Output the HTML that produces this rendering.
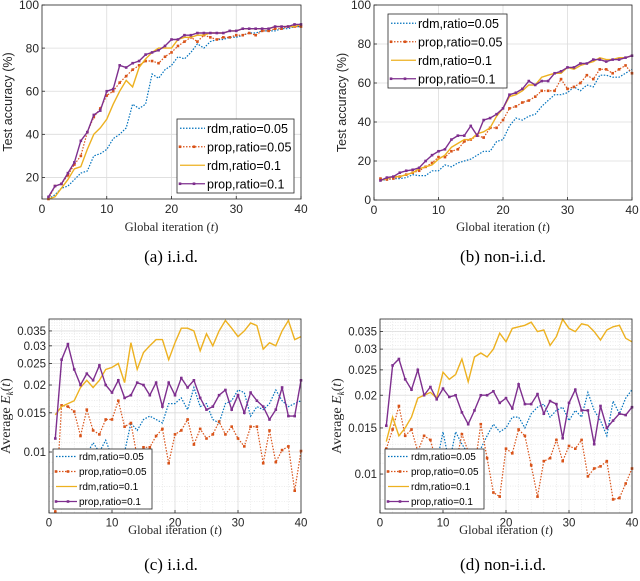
<!DOCTYPE html>
<html><head><meta charset="utf-8"><style>
html,body{margin:0;padding:0;background:#fff}
svg{display:block}
</style></head><body>
<svg id="fig" width="640" height="581" xmlns="http://www.w3.org/2000/svg"></svg>
<script>
const iters = Array.from({length:40},(_,i)=>i+1);
const seriesNames = ["rdm,ratio=0.05","prop,ratio=0.05","rdm,ratio=0.1","prop,ratio=0.1"];
const aRdm05=[10,12,15,16,19,22,23,30,31,33,38,40,43,54,52,54,68,66,70,72,76,75,78,82,80,83,84,84,85,85,86,87,87,88,88,88,89,89,90,90];
const aProp05=[10,16,17,21,26,30,41,48,52,58,60,64,67,70,72,74,74,73,76,78,81,83,85,83,86,85,84,85,85,86,86,87,86,88,88,89,89,90,90,90];
const aRdm1=[10,11,15,19,24,25,33,40,43,47,54,60,65,62,71,75,78,80,80,80,84,85,85,86,86,87,87,87,88,88,89,89,89,89,89,90,90,90,90,91];
const aProp1=[11,16,17,22,27,37,41,49,51,60,61,72,71,73,74,77,78,79,81,84,84,86,86,87,87,87,87,87,88,88,89,89,89,89,89,90,90,90,91,91];
const bRdm05=[10,10.5,11,11,11.5,13,12.5,12.5,15,15,18,17,19,20,21,23,25,25,30,31,38,42,41,43,44,48,51,54,54,55,58,56,59,58,64,64,63,63,65,67];
const bProp05=[11,10.5,11,12,13,14,15,17,19,22,22,25,26,30,31,33,32,37,37,41,47,48,50,51,53,56,56,56,62,57,58,60,64,62,67,67,65,67,69,65];
const bRdm1=[10,11,12,12,13,14,16,17,18,21,23,27,29,31,31,34,35,37,43,47,53,54,56,59,59,63,64,65,65,68,67,69,70,71,73,72,72,73,73,74];
const bProp1=[10,11.5,12,14,15,15.5,16.5,20,23,25,26,31,33,33,38,33,41,42,44,47,54,55,57,61,59,61,61,65,66,68,68,70,70,72,72,71,72,72,73,74];
const cRdm05=[0.009,0.0095,0.0085,0.009,0.0095,0.0098,0.011,0.010,0.0113,0.0095,0.010,0.010,0.0135,0.0125,0.014,0.0145,0.014,0.0135,0.0165,0.0165,0.0175,0.0155,0.0195,0.016,0.0165,0.014,0.0135,0.0165,0.017,0.019,0.0185,0.0145,0.016,0.0155,0.0165,0.019,0.017,0.016,0.0165,0.017];
const cProp05=[0.0054,0.0162,0.016,0.0152,0.0118,0.0155,0.0125,0.012,0.014,0.014,0.017,0.013,0.0135,0.0095,0.0105,0.0105,0.0118,0.0127,0.0089,0.012,0.0125,0.014,0.0108,0.0127,0.0115,0.012,0.0137,0.012,0.013,0.0115,0.0106,0.013,0.013,0.0089,0.0125,0.009,0.0102,0.0106,0.0067,0.0101];
const cRdm1=[0.0147,0.016,0.0165,0.017,0.0195,0.021,0.0195,0.021,0.0235,0.024,0.025,0.0205,0.031,0.0235,0.028,0.03,0.032,0.032,0.026,0.031,0.036,0.036,0.035,0.0285,0.034,0.030,0.035,0.039,0.036,0.033,0.035,0.038,0.037,0.029,0.031,0.030,0.035,0.039,0.032,0.033];
const cProp1=[0.0115,0.026,0.0305,0.0235,0.020,0.0225,0.021,0.0245,0.020,0.0185,0.021,0.0175,0.018,0.0205,0.020,0.018,0.0205,0.016,0.0205,0.018,0.0215,0.0195,0.021,0.0175,0.0155,0.016,0.018,0.019,0.0155,0.018,0.015,0.0185,0.017,0.016,0.014,0.0155,0.0195,0.0145,0.0145,0.021];
const dRdm05=[0.011,0.0105,0.0095,0.009,0.0075,0.0095,0.010,0.0105,0.011,0.0145,0.011,0.0145,0.013,0.012,0.0115,0.0125,0.014,0.0155,0.0145,0.015,0.0165,0.0165,0.015,0.017,0.018,0.0185,0.0165,0.0175,0.018,0.016,0.0175,0.0165,0.0205,0.0175,0.016,0.014,0.019,0.017,0.0195,0.021];
const dProp05=[0.0125,0.0148,0.0182,0.014,0.0148,0.0122,0.014,0.0135,0.011,0.0122,0.0118,0.0108,0.0142,0.0122,0.0105,0.0155,0.0115,0.0085,0.0082,0.0125,0.012,0.0148,0.014,0.0108,0.0082,0.0112,0.0115,0.0135,0.0112,0.0128,0.0125,0.0135,0.0098,0.0105,0.0107,0.0112,0.008,0.0081,0.0092,0.0105];
const dRdm1=[0.0133,0.0165,0.014,0.015,0.0165,0.0195,0.020,0.0205,0.0195,0.0245,0.023,0.024,0.0275,0.0225,0.028,0.029,0.028,0.030,0.0345,0.032,0.036,0.0365,0.037,0.038,0.035,0.0355,0.031,0.0335,0.039,0.036,0.035,0.0375,0.037,0.035,0.0325,0.0355,0.0365,0.037,0.033,0.032];
const dProp1=[0.0153,0.026,0.0275,0.023,0.021,0.025,0.020,0.0215,0.0193,0.0212,0.0197,0.020,0.0172,0.0155,0.0175,0.020,0.020,0.0207,0.0187,0.0195,0.0178,0.022,0.0185,0.0185,0.0202,0.017,0.019,0.0185,0.0137,0.0187,0.021,0.0175,0.0175,0.013,0.0182,0.015,0.016,0.017,0.0168,0.018];
const xTicks=[0,10,20,30,40];
const aYTicks=[20,40,60,80,100];
const bYTicks=[0,20,40,60,80,100];
const logYTicks=[0.01,0.015,0.02,0.025,0.03,0.035];
const logYTickLabels=["0.01","0.015","0.02","0.025","0.03","0.035"];

const NS="http://www.w3.org/2000/svg";
const svg=document.getElementById('fig');
function mk(tag,attrs,parent){const e=document.createElementNS(NS,tag);for(const k in attrs)e.setAttribute(k,attrs[k]);(parent||svg).appendChild(e);return e;}
const colors=["#0072BD","#D95319","#EDB120","#7E2F8E"];
const dashes=["1.5,1.5","1.5,1.5","",""];
const markers=[false,true,false,true];

function panel(cfg){
  const g=mk('g',{});
  
  
  const {x0,x1,y0,y1}=cfg;
  const xs=v=>x0+(v-0)/40*(x1-x0);
  const ys=cfg.log? v=>y1-(Math.log10(v)-Math.log10(cfg.ymin))/(Math.log10(cfg.ymax)-Math.log10(cfg.ymin))*(y1-y0)
                  : v=>y1-(v-cfg.ymin)/(cfg.ymax-cfg.ymin)*(y1-y0);
  mk('rect',{x:x0,y:y0,width:x1-x0,height:y1-y0,fill:'#fff'},g);
  // minor grid for log
  if(cfg.log){
    const mg=mk('g',{stroke:'#e0e0e0','stroke-width':0.6,'stroke-dasharray':'1,1.5'},g);
    
    
    for(let v=0.006;v<=0.04;v+=0.001){const y=ys(v);if(y>y0&&y<y1)mk('line',{x1:x0,x2:x1,y1:y,y2:y},mg);}
    for(let t=2;t<40;t+=2){mk('line',{x1:xs(t),x2:xs(t),y1:y0,y2:y1},mg);}
  }
  const gg=mk('g',{stroke:'#dcdcdc','stroke-width':0.8},g);
  
  
  xTicks.forEach(t=>mk('line',{x1:xs(t),x2:xs(t),y1:y0,y2:y1},gg));
  cfg.yTicks.forEach(t=>mk('line',{x1:x0,x2:x1,y1:ys(t),y2:ys(t)},gg));
  // series
  cfg.data.forEach((arr,si)=>{
    const sg=mk('g',{},g);
    
    
    const pts=arr.map((v,i)=>xs(iters[i]).toFixed(1)+','+ys(v).toFixed(1)).join(' ');
    const pl=mk('polyline',{points:pts,fill:'none',stroke:colors[si],'stroke-width':si>=2?1.4:1.2},sg);
    if(dashes[si])pl.setAttribute('stroke-dasharray',dashes[si]);
    if(markers[si])arr.forEach((v,i)=>{const m=mk('rect',{x:xs(iters[i])-1.3,y:ys(v)-1.3,width:2.6,height:2.6,fill:colors[si]},sg);});
  });
  // box
  mk('rect',{x:x0,y:y0,width:x1-x0,height:y1-y0,fill:'none',stroke:'#262626','stroke-width':0.8},g);
  // ticks
  const tg=mk('g',{fill:'#262626','font-family':'Liberation Sans, sans-serif','font-size':cfg.fs},g);
  
  
  xTicks.forEach(t=>{mk('line',{x1:xs(t),x2:xs(t),y1:y1,y2:y1-3,stroke:'#262626','stroke-width':0.8},tg);
    const tx=mk('text',{x:xs(t),y:y1+cfg.fs+2,'text-anchor':'middle'},tg);tx.textContent=t;});
  cfg.yTicks.forEach((t,i)=>{mk('line',{x1:x0,x2:x0+3,y1:ys(t),y2:ys(t),stroke:'#262626','stroke-width':0.8},tg);
    const tx=mk('text',{x:x0-3,y:ys(t)+cfg.fs*0.35,'text-anchor':'end'},tg);tx.textContent=cfg.yLabels?cfg.yLabels[i]:t;});
  // axis titles
  const xt=mk('text',{x:(x0+x1)/2,y:cfg.xtY,'text-anchor':'middle','font-family':'Liberation Serif, serif','font-size':12.5,fill:'#262626'},g);
  
  
  xt.innerHTML='Global iteration (<tspan font-style="italic">t</tspan>)';
  const yt=mk('text',{transform:`translate(${cfg.ytX},${(y0+y1)/2}) rotate(-90)`,'text-anchor':'middle','font-family':cfg.log?'Liberation Serif, serif':'Liberation Sans, sans-serif','font-size':cfg.log?14:12.5,fill:'#262626'},g);
  
  
  if(cfg.log) yt.innerHTML='Average <tspan font-style="italic">E</tspan><tspan font-style="italic" font-size="9" dy="3">k</tspan><tspan dy="-3">(</tspan><tspan font-style="italic">t</tspan>)';
  else yt.textContent='Test accuracy (%)';
  // legend
  const L=cfg.leg;
  const lg=mk('g',{},g);
  
  
  mk('rect',{x:L.x,y:L.y,width:L.w,height:L.h,fill:'#fff',stroke:'#262626','stroke-width':0.8},lg);
  seriesNames.forEach((n,si)=>{
    const e=mk('g',{},lg);
    
    
    const cy=L.y+L.h/8*(2*si+1);
    const ln=mk('line',{x1:L.x+3,x2:L.x+L.ll,y1:cy,y2:cy,stroke:colors[si],'stroke-width':1.3},e);
    if(dashes[si])ln.setAttribute('stroke-dasharray',dashes[si]);
    if(markers[si]){mk('rect',{x:L.x+3-1.3,y:cy-1.3,width:2.6,height:2.6,fill:colors[si]},e);mk('rect',{x:L.x+3+L.ll/2-1.3,y:cy-1.3,width:2.6,height:2.6,fill:colors[si]},e);}
    const t=mk('text',{x:L.x+L.ll+2,y:cy+L.fs*0.36,'font-family':'Liberation Sans, sans-serif','font-size':L.fs,fill:'#000'},e);t.textContent=n;
  });
  // caption
  const cp=mk('text',{x:cfg.capX,y:cfg.capY,'text-anchor':'middle','font-family':'Liberation Serif, serif','font-size':17,fill:'#000'},g);
  
  
  cp.textContent=cfg.cap;
}

panel({name:'panel-a-iid',x0:42,x1:301,y0:5,y1:199,ymin:10,ymax:100,yTicks:aYTicks,fs:12,data:[aRdm05,aProp05,aRdm1,aProp1],
  xtY:231,ytX:12,leg:{x:177,y:119,w:117,h:74,ll:28,fs:12.5},capX:171,capY:262,cap:'(a) i.i.d.'});
panel({name:'panel-b-noniid',x0:374,x1:632,y0:5,y1:200,ymin:0,ymax:100,yTicks:bYTicks,fs:12,data:[bRdm05,bProp05,bRdm1,bProp1],
  xtY:231,ytX:346,leg:{x:388,y:14,w:119,h:74,ll:28,fs:12.5},capX:503,capY:262,cap:'(b) non-i.i.d.'});
panel({name:'panel-c-iid',x0:49,x1:301,y0:319,y1:513,log:true,ymin:0.00532,ymax:0.0396,yTicks:logYTicks,yLabels:logYTickLabels,fs:11.5,data:[cRdm05,cProp05,cRdm1,cProp1],
  xtY:534,ytX:10,leg:{x:53,y:449,w:99,h:60,ll:24,fs:10},capX:171,capY:570,cap:'(c) i.i.d.'});
panel({name:'panel-d-noniid',x0:380,x1:632,y0:319,y1:513,log:true,ymin:0.0071,ymax:0.0391,yTicks:logYTicks,yLabels:logYTickLabels,fs:11.5,data:[dRdm05,dProp05,dRdm1,dProp1],
  xtY:534,ytX:341,leg:{x:385,y:449,w:99,h:60,ll:24,fs:10},capX:503,capY:570,cap:'(d) non-i.i.d.'});
</script>
</body></html>
